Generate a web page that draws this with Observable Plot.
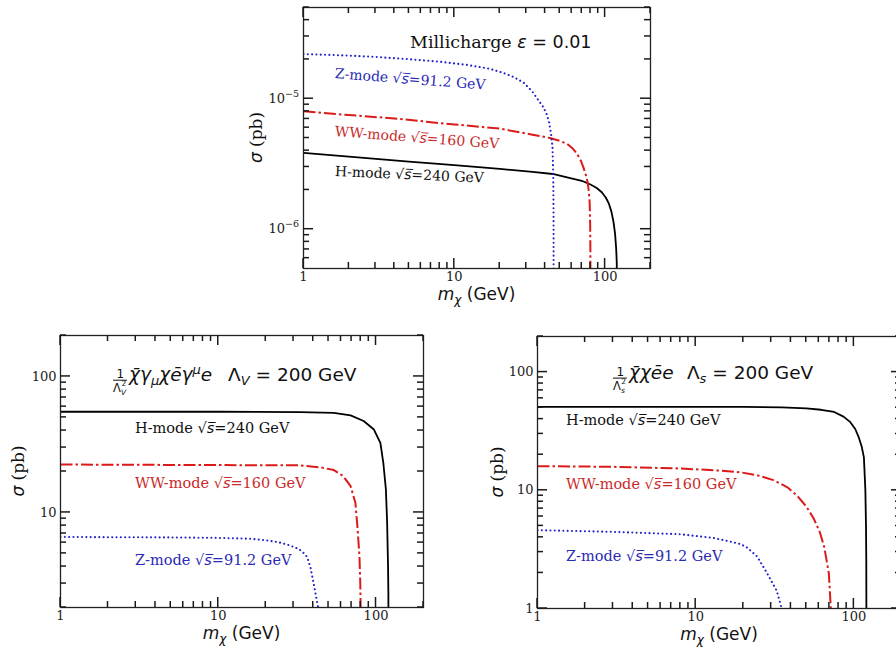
<!DOCTYPE html>
<html><head><meta charset="utf-8">
<script src="https://cdn.jsdelivr.net/npm/d3@7"></script>
<script src="https://cdn.jsdelivr.net/npm/@observablehq/plot@0.6"></script>
<style>
html,body{margin:0;padding:0;background:#fff;overflow:hidden}
#wrap{position:relative;width:896px;height:649px;overflow:hidden;background:#fff}
.panel{position:absolute;overflow:visible}
.panel svg{max-width:none !important;display:block}
</style></head><body><div id="wrap"></div>
<script>
// ---------- axis ticks ----------
const massMajor = [1, 10, 100];
const massLabels = ["1", "10", "100"];
const massMinor = [2, 3, 4, 5, 6, 7, 8, 9, 20, 30, 40, 50, 60, 70, 80, 90, 200];

const topYMajor = [1e-6, 1e-5];
const topYExp = ["\u22126", "\u22125"];
const topYMinor = [6e-7, 7e-7, 8e-7, 9e-7, 2e-6, 3e-6, 4e-6, 5e-6, 6e-6, 7e-6, 8e-6, 9e-6, 2e-5, 3e-5, 4e-5, 5e-5];

const blYMajor = [10, 100];
const blYLabels = ["10", "100"];
const blYMinor = [2, 3, 4, 5, 6, 7, 8, 9, 20, 30, 40, 50, 60, 70, 80, 90, 200];

const brYMajor = [1, 10, 100];
const brYLabels = ["1", "10", "100"];
const brYMinor = [2, 3, 4, 5, 6, 7, 8, 9, 20, 30, 40, 50, 60, 70, 80, 90, 200];

// ---------- series (m_chi in GeV, sigma in pb) ----------
// Top: millicharge
const topZ_m = [1, 2, 3, 5, 8, 12, 17, 21, 25, 29, 33, 36, 39, 41, 42.5, 44, 44.8, 45.3, 45.5, 45.6];
const topZ_s = [2.2e-5, 2.14e-5, 2.09e-5, 2.01e-5, 1.92e-5, 1.82e-5, 1.7e-5, 1.58e-5, 1.46e-5, 1.32e-5, 1.13e-5, 9.8e-6, 8.6e-6, 7.6e-6, 6.6e-6, 5.2e-6, 4.2e-6, 2.6e-6, 1.3e-6, 3e-7];
const topWW_m = [1, 2, 4.4, 8, 10, 20, 33, 43, 50, 56, 61, 65, 69, 72, 74.5, 76.5, 78, 79, 79.6, 79.9, 80];
const topWW_s = [8.0e-6, 7.5e-6, 7.0e-6, 6.5e-6, 6.35e-6, 5.9e-6, 5.3e-6, 5.0e-6, 4.75e-6, 4.5e-6, 4.15e-6, 3.8e-6, 3.35e-6, 2.95e-6, 2.6e-6, 2.3e-6, 1.95e-6, 1.6e-6, 1.1e-6, 6.5e-7, 2e-7];
const topH_m = [1, 2, 5, 10, 20, 33, 45, 56, 70, 80, 88, 95, 101, 106, 110, 113.5, 116.5, 118.5, 119.5, 120];
const topH_s = [3.85e-6, 3.6e-6, 3.3e-6, 3.1e-6, 2.9e-6, 2.75e-6, 2.65e-6, 2.5e-6, 2.35e-6, 2.2e-6, 2.07e-6, 1.92e-6, 1.75e-6, 1.57e-6, 1.37e-6, 1.15e-6, 9.2e-7, 7e-7, 5.5e-7, 2e-7];

// Bottom left: vector operator
const blH_m = [1, 10, 33, 54, 69, 83.5, 97, 106.6, 111.3, 115.5, 117.6, 119.2, 119.8, 120];
const blH_s = [55, 55, 54.6, 54, 51.7, 47, 40.7, 32.5, 23, 14.8, 8.5, 4, 2.5, 1];
const blWW_m = [1, 10, 33, 45, 54, 62, 69, 74, 76.2, 78.5, 79.5, 79.9, 80];
const blWW_s = [22.5, 22.3, 22.2, 21.4, 20.5, 18.5, 15.6, 11.8, 7.9, 4.8, 3, 2, 1];
const blZ_m = [1, 5, 10, 16, 20, 24, 28, 31, 33, 35, 36.6, 38.5, 40.5, 42, 43.4, 44.5];
const blZ_s = [6.6, 6.55, 6.5, 6.4, 6.25, 6.05, 5.75, 5.5, 5.3, 5.0, 4.7, 3.9, 2.9, 2.3, 1.9, 1.4];

// Bottom right: scalar operator
const brH_m = [1, 10, 20, 35, 50, 62, 75, 86, 95, 102, 107.4, 112, 115.7, 118.2, 119.3, 119.8, 120];
const brH_s = [50.8, 50.8, 50.7, 50.3, 49.3, 48, 46, 42, 37.7, 33, 28, 23.5, 19, 10, 5, 2.5, 0.8];
const brWW_m = [1, 3, 8, 14, 19.2, 25, 31, 38, 43.8, 50, 55.6, 61, 65, 69.4, 71.5, 72.5];
const brWW_s = [16, 15.8, 15.3, 14.7, 14.2, 13.3, 12.2, 10.6, 9.0, 7.3, 5.8, 4.4, 3.3, 2.0, 1.0, 0.7];
const brZ_m = [1, 3, 8, 13, 17, 19.2, 21, 24.5, 28.2, 32.5, 35, 36];
const brZ_s = [4.6, 4.45, 4.25, 3.95, 3.65, 3.5, 3.3, 2.75, 2.0, 1.42, 1.0, 0.85];

// ---------- curve labels ----------
const modeNames = ["H-mode", "WW-mode", "Z-mode"];
const modeSqrtS = ["240", "160", "91.2"];
const topLabelM = [1.63, 1.63, 1.63];
const topLabelS = [2.77e-6, 5.61e-6, 1.56e-5];
const topLabelRot = [2.5, 4.4, 4.4];
const blLabelM = [2.99, 2.99, 2.99];
const blLabelS = [41.4, 16.3, 4.43];
const brLabelM = [1.525, 1.525, 1.525];
const brLabelS = [38.9, 11.2, 2.75];

const SERIF = "DejaVu Serif", SANS = "DejaVu Sans";
const lineColor = ["#000000", "#dd1a1a", "#2222cc"];
const textColor = ["#111111", "#c92a2a", "#2a2ab4"];
const lineWidth = [1.8, 2, 2.1];
const lineDash = [null, "12,3,2.5,3", "0.01,4.3"];
const lineCap = ["butt", "butt", "round"];

function rich(g, X, Y, rot, anchor, parts) {
  const t = g.append("text")
    .attr("transform", `translate(${X},${Y})` + (rot ? ` rotate(${rot})` : ""))
    .attr("text-anchor", anchor);
  let cur = null;
  for (const p of parts) {
    const py = p.y ?? 0;
    const ts = t.append("tspan").text(p.t)
      .attr("font-family", p.f)
      .attr("font-size", p.s)
      .attr("fill", p.c ?? "#111");
    if (p.it) ts.attr("font-style", "italic");
    if (p.x != null || cur === null) {
      if (p.x != null) ts.attr("x", p.x);
      ts.attr("y", py);
    } else if (py !== cur) {
      ts.attr("dy", py - cur);
    }
    cur = py;
  }
  return t;
}

function panel(cfg) {
  const fh = cfg.height - cfg.mt - cfg.mb;
  const fw = cfg.width - cfg.ml - cfg.mr;
  const marks = [];
  cfg.series.forEach((s, k) => {
    const data = s.m.map((m, i) => ({m, s: s.s[i]}));
    marks.push(Plot.line(data, {x: "m", y: "s", stroke: lineColor[k], strokeWidth: lineWidth[k],
      strokeDasharray: lineDash[k], strokeLinecap: lineCap[k], clip: true}));
  });
  marks.push(
    Plot.frame({stroke: "#222", strokeWidth: 1.3}),
    Plot.axisX({ticks: massMajor, tickSize: 0, tickPadding: 3, label: null,
      tickFormat: d => massLabels[massMajor.indexOf(d)]})
  );
  if (cfg.yLabels) {
    marks.push(Plot.axisY({ticks: cfg.yMajor, tickSize: 0, tickPadding: 4, label: null,
      tickFormat: d => cfg.yLabels[cfg.yMajor.indexOf(d)]}));
  }
  const plot = Plot.plot({
    width: cfg.width, height: cfg.height,
    marginTop: cfg.mt, marginBottom: cfg.mb, marginLeft: cfg.ml, marginRight: cfg.mr,
    x: {type: "log", domain: [1, 200]},
    y: {type: "log", domain: cfg.yDomain, axis: cfg.yLabels ? undefined : null},
    style: {fontFamily: SERIF, fontSize: "13px", background: "white", color: "#222",
      overflow: "visible", maxWidth: "none"},
    marks
  });
  const xs = plot.scale("x"), ys = plot.scale("y");
  const X0 = cfg.ml, X1 = cfg.width - cfg.mr, Y0 = cfg.mt, Y1 = cfg.height - cfg.mb;
  // inward ticks on all four sides, placed through Plot's scales
  const tg = d3.select(plot).append("g")
    .attr("stroke", "#1a1a1a").attr("stroke-width", 1.5).attr("fill", "none");
  const vt = (v, len) => {
    const x = xs.apply(v);
    tg.append("line").attr("x1", x).attr("x2", x).attr("y1", Y1).attr("y2", Y1 - len);
    tg.append("line").attr("x1", x).attr("x2", x).attr("y1", Y0).attr("y2", Y0 + len);
  };
  const ht = (v, len) => {
    const y = ys.apply(v);
    tg.append("line").attr("y1", y).attr("y2", y).attr("x1", X0).attr("x2", X0 + len);
    tg.append("line").attr("y1", y).attr("y2", y).attr("x1", X1).attr("x2", X1 - len);
  };
  massMajor.forEach(v => vt(v, 10));
  massMinor.forEach(v => vt(v, 6));
  cfg.yMajor.forEach(v => ht(v, 10));
  cfg.yMinor.forEach(v => ht(v, 6));

  const g = d3.select(plot).append("g");
  // top-panel y tick labels with exponents
  if (cfg.yExp) {
    cfg.yMajor.forEach((v, i) => rich(g, X0 - 4, ys.apply(v), 0, "end", [
      {t: "10", f: SERIF, s: 13, y: 4.5, c: "#222"},
      {t: cfg.yExp[i], f: SERIF, s: 9.5, y: -1.5, c: "#222"}
    ]));
  }
  // curve labels
  cfg.labelM.forEach((m, k) => {
    const s = cfg.labelSize;
    rich(g, xs.apply(m), ys.apply(cfg.labelS[k]), cfg.labelRot ? cfg.labelRot[k] : 0, "start", [
      {t: modeNames[k] + " ", f: SERIF, s, y: 0.36 * s, c: textColor[k]},
      {t: "\u221A", f: SANS, s, y: 0.36 * s, c: textColor[k]},
      {t: "s\u0305", f: SANS, s, it: true, y: 0.36 * s, c: textColor[k]},
      {t: "=" + modeSqrtS[k] + " GeV", f: SERIF, s, y: 0.36 * s, c: textColor[k]}
    ]);
  });
  // axis titles
  const cx = cfg.ml + fw / 2, cy = cfg.mt + fh / 2;
  rich(g, cx, cfg.height - cfg.mb + 26, 0, "middle", [
    {t: "m", f: SANS, s: 17, it: true, y: 6},
    {t: "\u03C7", f: SANS, s: 12, it: true, y: 10},
    {t: " (GeV)", f: SANS, s: 17, y: 6}
  ]);
  rich(g, cfg.ml - cfg.yTitleOff, cy, -90, "middle", [
    {t: "\u03C3", f: SANS, s: 17, it: true, y: 6},
    {t: " (pb)", f: SERIF, s: 17, y: 6}
  ]);
  cfg.title(g, xs, ys);
  const div = document.createElement("div");
  div.className = "panel";
  div.style.left = cfg.left + "px";
  div.style.top = cfg.top + "px";
  div.style.width = cfg.width + "px";
  div.style.height = cfg.height + "px";
  plot.style.maxWidth = "none";
  plot.style.width = cfg.width + "px";
  plot.style.height = cfg.height + "px";
  div.appendChild(plot);
  document.getElementById("wrap").appendChild(div);
}

// ---------- titles ----------
const topTitleM = 5.12, topTitleS = 2.7e-5;
const blTitleM = 2.17, blTitleS = 103;
const brTitleM = 3.02, brTitleS = 99;

function fracTitle(g, X, Y, sub, mathParts, lamX, lamSub) {
  const B = 6.5;
  // fraction bar
  g.append("line").attr("x1", X).attr("x2", X + 14).attr("y1", Y + B - 0.5).attr("y2", Y + B - 0.5)
    .attr("stroke", "#111").attr("stroke-width", 1);
  rich(g, X, Y, 0, "start", [
    {t: "1", f: SANS, s: 12, x: 3.5, y: B - 3},
    {t: "\u039B", f: SANS, s: 11.5, x: 0, y: B + 11},
    {t: "2", f: SANS, s: 7.5, x: 8.3, y: B + 5.5},
    {t: sub, f: SANS, s: 7.5, it: true, x: 8, y: B + 14.5},
    ...mathParts.map((p, i) => ({...p, f: SANS, it: true, s: p.s ?? 18.5, y: B + (p.sh ?? 0), x: i === 0 ? 16 : undefined})),
    {t: "\u039B", f: SANS, s: 18.5, x: lamX, y: B},
    {t: lamSub, f: SANS, s: 13, it: true, y: B + 4},
    {t: " = 200 GeV", f: SANS, s: 18.5, y: B}
  ]);
}

panel({
  left: 230, top: 0, width: 440, height: 303, mt: 7, mb: 35, ml: 73, mr: 20,
  yDomain: [5e-7, 5e-5], yMajor: topYMajor, yExp: topYExp, yMinor: topYMinor,
  series: [{m: topH_m, s: topH_s}, {m: topWW_m, s: topWW_s}, {m: topZ_m, s: topZ_s}],
  labelM: topLabelM, labelS: topLabelS, labelRot: topLabelRot, labelSize: 14,
  yTitleOff: 47,
  title: (g, xs, ys) => rich(g, xs.apply(topTitleM), ys.apply(topTitleS), 0, "start", [
    {t: "Millicharge ", f: SERIF, s: 17.5, y: 6},
    {t: "\u03B5", f: SANS, s: 17.5, it: true, y: 6},
    {t: " = 0.01", f: SANS, s: 17.5, y: 6}
  ])
});

panel({
  left: 0, top: 320, width: 443, height: 329, mt: 15, mb: 42, ml: 60, mr: 20,
  yDomain: [2, 200], yMajor: blYMajor, yLabels: blYLabels, yMinor: blYMinor,
  series: [{m: blH_m, s: blH_s}, {m: blWW_m, s: blWW_s}, {m: blZ_m, s: blZ_s}],
  labelM: blLabelM, labelS: blLabelS, labelSize: 14.5,
  yTitleOff: 42,
  title: (g, xs, ys) => fracTitle(g, xs.apply(blTitleM), ys.apply(blTitleS), "V", [
    {t: "\u03C7\u0304"}, {t: "\u03B3"}, {t: "\u03BC", s: 13, sh: 4}, {t: "\u03C7"},
    {t: "\u0113"}, {t: "\u03B3"}, {t: "\u03BC", s: 13, sh: -7}, {t: "e"}
  ], 115, "V")
});

panel({
  left: 480, top: 320, width: 441, height: 329, mt: 16, mb: 41, ml: 57, mr: 20,
  yDomain: [1, 200], yMajor: brYMajor, yLabels: brYLabels, yMinor: brYMinor,
  series: [{m: brH_m, s: brH_s}, {m: brWW_m, s: brWW_s}, {m: brZ_m, s: brZ_s}],
  labelM: brLabelM, labelS: brLabelS, labelSize: 14.5,
  yTitleOff: 40,
  title: (g, xs, ys) => fracTitle(g, xs.apply(brTitleM), ys.apply(brTitleS), "s", [
    {t: "\u03C7\u0304"}, {t: "\u03C7"}, {t: "\u0113"}, {t: "e"}
  ], 74, "s")
});
</script></body></html>
